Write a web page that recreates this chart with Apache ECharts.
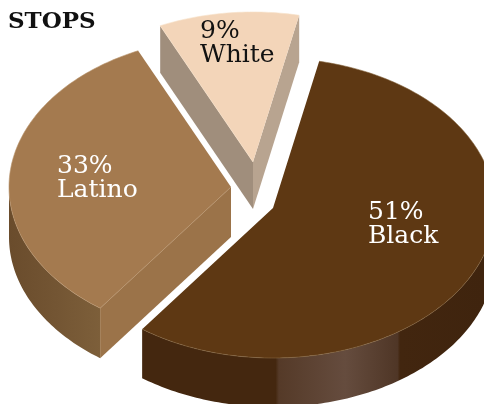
<!DOCTYPE html>
<html>
<head>
<meta charset="utf-8">
<style>html,body{margin:0;padding:0;background:#fff}#c{width:484px;height:404px}</style>
<script src="https://cdn.jsdelivr.net/npm/echarts@6/dist/echarts.min.js"></script>
</head>
<body>
<div id="c"></div>
<script>
// Values
var titleText = 'STOPS';
var categories = ['Black', 'Latino', 'White'];
var labelPercents = [51, 33, 9];
// Share of the full circle each slice actually occupies in the picture
var sliceShares = [56.7, 33.1, 10.2];

// Styles and layout
var topColors = ['#5e3813', '#a47a4f', '#f3d5b9'];
var rimColors = ['#86663f', '#b9946c', '#f7e0c8'];
var startFaceColors = ['#42270f', '#9b7349', '#a08e7c'];
var endFaceColors = ['#42270f', '#9b7349', '#b8a490'];
var labelColors = ['#ffffff', '#ffffff', '#111111'];
var apexX = [273, 231, 253];
var apexY = [208, 187, 162];
var depths = [49, 50, 47];
var labelX = [368, 57, 200];
var labelY = [224, 178, 43];
var START_ANGLE = 12, RX = 222, RY = 150;
var wallStops = [
  [ // Black
    {offset: 0, color: '#44270f'}, {offset: 0.385, color: '#44270f'},
    {offset: 0.395, color: '#553a28'}, {offset: 0.59, color: '#654c3e'},
    {offset: 0.745, color: '#4f3626'}, {offset: 0.752, color: '#42260f'},
    {offset: 1, color: '#3f240e'}
  ],
  [ // Latino
    {offset: 0, color: '#6a4c2c'}, {offset: 0.5, color: '#735533'}, {offset: 1, color: '#7d5f3a'}
  ],
  [{offset: 0, color: '#a08e7c'}, {offset: 1, color: '#a08e7c'}]
];
var wallRange = [[145, 484], [10, 100], [160, 300]];

var rad = function (d) { return d * Math.PI / 180; };
function rim(i, a, dy) {
  return [apexX[i] + RX * Math.sin(rad(a)), apexY[i] - RY * Math.cos(rad(a)) + (dy || 0)];
}
function arc(i, a0, a1, dy) {
  var pts = [], n = Math.max(2, Math.ceil(Math.abs(a1 - a0)));
  for (var k = 0; k <= n; k++) pts.push(rim(i, a0 + (a1 - a0) * k / n, dy));
  return pts;
}
function face(i, a, color) {
  var p = rim(i, a), q = rim(i, a, depths[i]);
  return {type: 'polygon', shape: {points: [[apexX[i], apexY[i]], p, q, [apexX[i], apexY[i] + depths[i]]]},
    style: {fill: color}, silent: true};
}

function renderSlice(params, api) {
  var i = params.dataIndex, before = 0;
  for (var j = 0; j < i; j++) before += sliceShares[j];
  var total = sliceShares.reduce(function (s, v) { return s + v; }, 0);
  var a0 = START_ANGLE + before / total * 360;
  var a1 = a0 + api.value(0) / total * 360;
  var children = [];

  // outer wall: visible on the near half of the rim
  var w0 = Math.max(a0, 90), w1 = Math.min(a1, 270);
  if (w1 > w0) {
    children.push({
      type: 'polygon',
      shape: {points: arc(i, w0, w1).concat(arc(i, w1, w0, depths[i]))},
      style: {fill: new echarts.graphic.LinearGradient(wallRange[i][0], 0, wallRange[i][1], 0, wallStops[i], true)},
      silent: true
    });
  }
  // cut faces that point towards the viewer
  var startVisible = Math.sin(rad(a0)) < 0;
  if (startVisible) children.push(face(i, a0, startFaceColors[i]));
  if (Math.sin(rad(a1)) > 0) children.push(face(i, a1, endFaceColors[i]));
  // top surface
  children.push({
    type: 'polygon',
    shape: {points: [[apexX[i], apexY[i]]].concat(arc(i, a0, a1))},
    style: {fill: topColors[i]},
    silent: true
  });
  var edge = arc(i, a0, a1);
  if (startVisible) edge.unshift([apexX[i], apexY[i]]);
  children.push({
    type: 'polyline',
    shape: {points: edge},
    style: {fill: null, stroke: rimColors[i], lineWidth: 0.6},
    silent: true
  });
  children.push({
    type: 'text',
    style: {
      text: labelPercents[i] + '%\n' + categories[i],
      x: labelX[i], y: labelY[i],
      textAlign: 'left', textVerticalAlign: 'middle',
      font: '25px "DejaVu Serif"', lineHeight: 24,
      fill: labelColors[i]
    },
    silent: true
  });
  return {type: 'group', children: children};
}

var chart = echarts.init(document.getElementById('c'), null, {renderer: 'canvas'});
chart.setOption({
  animation: false,
  backgroundColor: '#ffffff',
  title: {
    text: titleText, left: 3, top: 6,
    textStyle: {fontFamily: 'DejaVu Serif', fontWeight: 'bold', fontSize: 23, color: '#111111'}
  },
  series: [{
    type: 'custom',
    coordinateSystem: 'none',
    silent: true,
    renderItem: renderSlice,
    data: sliceShares.map(function (v) { return [v]; })
  }]
});
</script>
</body>
</html>
